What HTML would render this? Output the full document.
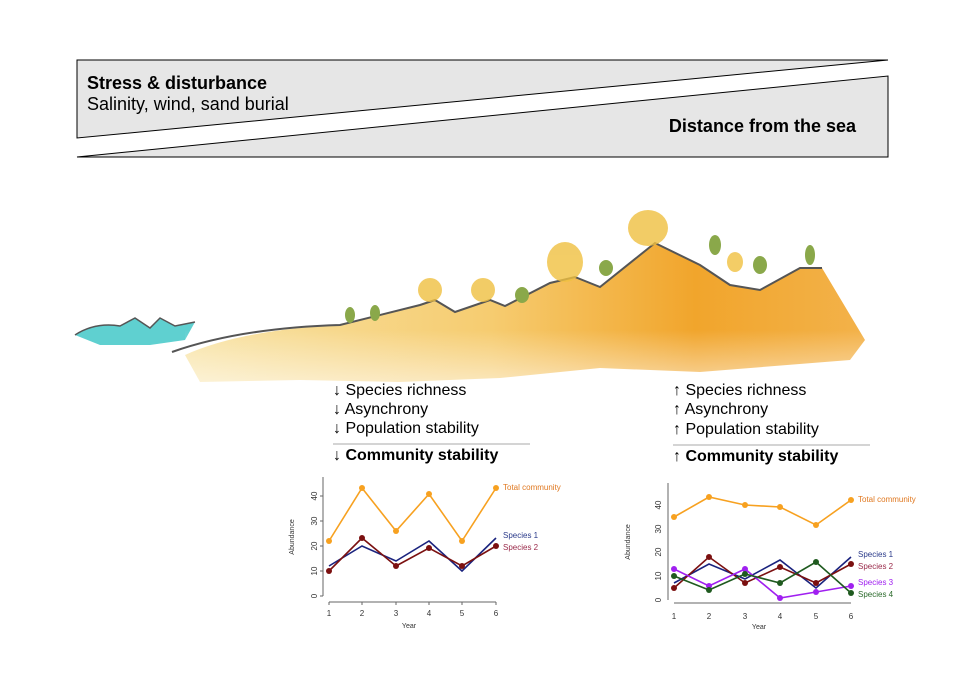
<!DOCTYPE html>
<html><head><meta charset="utf-8"><style>
body{margin:0;background:#fff;width:964px;height:686px;overflow:hidden;font-family:"Liberation Sans",Arial,sans-serif}
svg{display:block}
</style></head><body>
<svg width="964" height="686" viewBox="0 0 964 686" xmlns="http://www.w3.org/2000/svg" font-family="Liberation Sans, Arial, sans-serif">
<defs>
<linearGradient id="sand" x1="0" y1="0" x2="1" y2="0">
<stop offset="0" stop-color="#f8e4a8"/><stop offset="0.45" stop-color="#f6cc70"/><stop offset="0.75" stop-color="#f1a52c"/><stop offset="1" stop-color="#f3b24a"/>
</linearGradient>
<linearGradient id="fade" x1="0" y1="0" x2="0" y2="1">
<stop offset="0" stop-color="#fff" stop-opacity="0"/><stop offset="1" stop-color="#fff" stop-opacity="0.6"/>
</linearGradient>
</defs>
<polygon points="77,60 888,60 77,138" fill="#e6e6e6" stroke="#000" stroke-width="1"/>
<polygon points="888,76 888,157 77,157" fill="#e6e6e6" stroke="#000" stroke-width="1"/>
<text x="87" y="89" font-size="18" font-weight="bold">Stress &amp; disturbance</text>
<text x="87" y="110" font-size="18">Salinity, wind, sand burial</text>
<text x="856" y="132" font-size="18" font-weight="bold" text-anchor="end">Distance from the sea</text>
<path d="M75,335 Q95,322 120,326 L135,318 L150,328 L160,318 L175,326 L195,322 L185,340 L150,345 L100,345 Z" fill="#5fd0d0"/>
<path d="M75,335 Q95,322 120,326 L135,318 L150,328 L160,318 L175,326 L195,322" fill="none" stroke="#555" stroke-width="1.5"/>
<path d="M185,355 Q240,330 340,325 L420,305 L435,300 L455,312 L490,300 L505,306 L550,283 L575,277 L600,287 L655,243 L700,265 L730,285 L760,290 L800,268 L822,268 L865,340 L850,360 L700,372 L600,368 L500,378 L400,382 L300,380 L200,382 Z" fill="url(#sand)"/>
<path d="M185,330 L870,330 L870,390 L185,390Z" fill="url(#fade)"/>
<path d="M172,352 Q240,328 340,325 L420,305 L435,300 L455,312 L490,300 L505,306 L550,283 L575,277 L600,287 L655,243 L700,265 L730,285 L760,290 L800,268 L822,268" fill="none" stroke="#555" stroke-width="2"/>
<g fill="#f0c040" opacity="0.8">
<ellipse cx="430" cy="290" rx="12" ry="12"/><ellipse cx="483" cy="290" rx="12" ry="12"/>
<ellipse cx="565" cy="262" rx="18" ry="20"/><ellipse cx="648" cy="228" rx="20" ry="18"/>
<ellipse cx="735" cy="262" rx="8" ry="10"/>
</g>
<g fill="#8aa84a"><ellipse cx="350" cy="315" rx="5" ry="8"/><ellipse cx="375" cy="313" rx="5" ry="8"/><ellipse cx="522" cy="295" rx="7" ry="8"/><ellipse cx="606" cy="268" rx="7" ry="8"/><ellipse cx="715" cy="245" rx="6" ry="10"/><ellipse cx="760" cy="265" rx="7" ry="9"/><ellipse cx="810" cy="255" rx="5" ry="10"/></g>
<g font-size="16">
<text x="333" y="395">↓ Species richness</text>
<text x="333" y="414">↓ Asynchrony</text>
<text x="333" y="433">↓ Population stability</text>
<text x="333" y="460" font-weight="bold">↓ Community stability</text>
<text x="673" y="395">↑ Species richness</text>
<text x="673" y="414">↑ Asynchrony</text>
<text x="673" y="434">↑ Population stability</text>
<text x="673" y="461" font-weight="bold">↑ Community stability</text>
</g>
<line x1="333" y1="444" x2="530" y2="444" stroke="#aaa"/>
<line x1="673" y1="445" x2="870" y2="445" stroke="#aaa"/>
<g font-size="8" fill="#333">
<line x1="323" y1="477" x2="323" y2="596" stroke="#666"/>
<line x1="329" y1="602" x2="496" y2="602" stroke="#666"/>
<g stroke="#666"><line x1="320" y1="596" x2="323" y2="596"/><line x1="320" y1="571" x2="323" y2="571"/><line x1="320" y1="546" x2="323" y2="546"/><line x1="320" y1="521" x2="323" y2="521"/><line x1="320" y1="496" x2="323" y2="496"/>
<line x1="329" y1="602" x2="329" y2="605"/><line x1="362" y1="602" x2="362" y2="605"/><line x1="396" y1="602" x2="396" y2="605"/><line x1="429" y1="602" x2="429" y2="605"/><line x1="462" y1="602" x2="462" y2="605"/><line x1="496" y1="602" x2="496" y2="605"/></g>
<g text-anchor="middle"><text transform="translate(317,596) rotate(-90)">0</text><text transform="translate(317,571) rotate(-90)">10</text><text transform="translate(317,546) rotate(-90)">20</text><text transform="translate(317,521) rotate(-90)">30</text><text transform="translate(317,496) rotate(-90)">40</text>
<text x="329" y="616">1</text><text x="362" y="616">2</text><text x="396" y="616">3</text><text x="429" y="616">4</text><text x="462" y="616">5</text><text x="496" y="616">6</text>
<text x="409" y="628" font-size="7">Year</text><text transform="translate(294,537) rotate(-90)" font-size="7">Abundance</text></g>
<polyline points="329,541 362,488 396,531 429,494 462,541 496,488" fill="none" stroke="#f7a120" stroke-width="1.6"/>
<g fill="#f7a120"><circle cx="329" cy="541" r="3"/><circle cx="362" cy="488" r="3"/><circle cx="396" cy="531" r="3"/><circle cx="429" cy="494" r="3"/><circle cx="462" cy="541" r="3"/><circle cx="496" cy="488" r="3"/></g>
<polyline points="329,566 362,546 396,561 429,541 462,571 496,538" fill="none" stroke="#1a237e" stroke-width="1.6"/>
<polyline points="329,571 362,538 396,566 429,548 462,566 496,546" fill="none" stroke="#7b1010" stroke-width="1.6"/>
<g fill="#7b1010"><circle cx="329" cy="571" r="3"/><circle cx="362" cy="538" r="3"/><circle cx="396" cy="566" r="3"/><circle cx="429" cy="548" r="3"/><circle cx="462" cy="566" r="3"/><circle cx="496" cy="546" r="3"/></g>
<text x="503" y="490" fill="#e07820">Total community</text>
<text x="503" y="538" fill="#2a3a8a">Species 1</text>
<text x="503" y="550" fill="#9a2a4a">Species 2</text>
</g>
<g font-size="8" fill="#333">
<line x1="668" y1="483" x2="668" y2="600" stroke="#666"/>
<line x1="674" y1="603" x2="851" y2="603" stroke="#666"/>
<g text-anchor="middle"><text transform="translate(661,600) rotate(-90)">0</text><text transform="translate(661,576) rotate(-90)">10</text><text transform="translate(661,552) rotate(-90)">20</text><text transform="translate(661,529) rotate(-90)">30</text><text transform="translate(661,505) rotate(-90)">40</text>
<text x="674" y="619">1</text><text x="709" y="619">2</text><text x="745" y="619">3</text><text x="780" y="619">4</text><text x="816" y="619">5</text><text x="851" y="619">6</text>
<text x="759" y="629" font-size="7">Year</text><text transform="translate(630,542) rotate(-90)" font-size="7">Abundance</text></g>
<polyline points="674,517 709,497 745,505 780,507 816,525 851,500" fill="none" stroke="#f7a120" stroke-width="1.6"/>
<g fill="#f7a120"><circle cx="674" cy="517" r="3"/><circle cx="709" cy="497" r="3"/><circle cx="745" cy="505" r="3"/><circle cx="780" cy="507" r="3"/><circle cx="816" cy="525" r="3"/><circle cx="851" cy="500" r="3"/></g>
<polyline points="674,583 709,564 745,579 780,560 816,588 851,557" fill="none" stroke="#1a237e" stroke-width="1.6"/>
<polyline points="674,588 709,557 745,583 780,567 816,583 851,564" fill="none" stroke="#7b1010" stroke-width="1.6"/>
<polyline points="674,569 709,586 745,569 780,598 816,592 851,586" fill="none" stroke="#a020f0" stroke-width="1.6"/>
<polyline points="674,576 709,590 745,574 780,583 816,562 851,593" fill="none" stroke="#1f5a1f" stroke-width="1.6"/>
<g fill="#7b1010"><circle cx="674" cy="588" r="3"/><circle cx="709" cy="557" r="3"/><circle cx="745" cy="583" r="3"/><circle cx="780" cy="567" r="3"/><circle cx="816" cy="583" r="3"/><circle cx="851" cy="564" r="3"/></g>
<g fill="#a020f0"><circle cx="674" cy="569" r="3"/><circle cx="709" cy="586" r="3"/><circle cx="745" cy="569" r="3"/><circle cx="780" cy="598" r="3"/><circle cx="816" cy="592" r="3"/><circle cx="851" cy="586" r="3"/></g>
<g fill="#1f5a1f"><circle cx="674" cy="576" r="3"/><circle cx="709" cy="590" r="3"/><circle cx="745" cy="574" r="3"/><circle cx="780" cy="583" r="3"/><circle cx="816" cy="562" r="3"/><circle cx="851" cy="593" r="3"/></g>
<text x="858" y="502" fill="#e07820">Total community</text>
<text x="858" y="557" fill="#2a3a8a">Species 1</text>
<text x="858" y="569" fill="#9a2a4a">Species 2</text>
<text x="858" y="585" fill="#a020f0">Species 3</text>
<text x="858" y="597" fill="#2a6a2a">Species 4</text>
</g>
</svg>
</body></html>
